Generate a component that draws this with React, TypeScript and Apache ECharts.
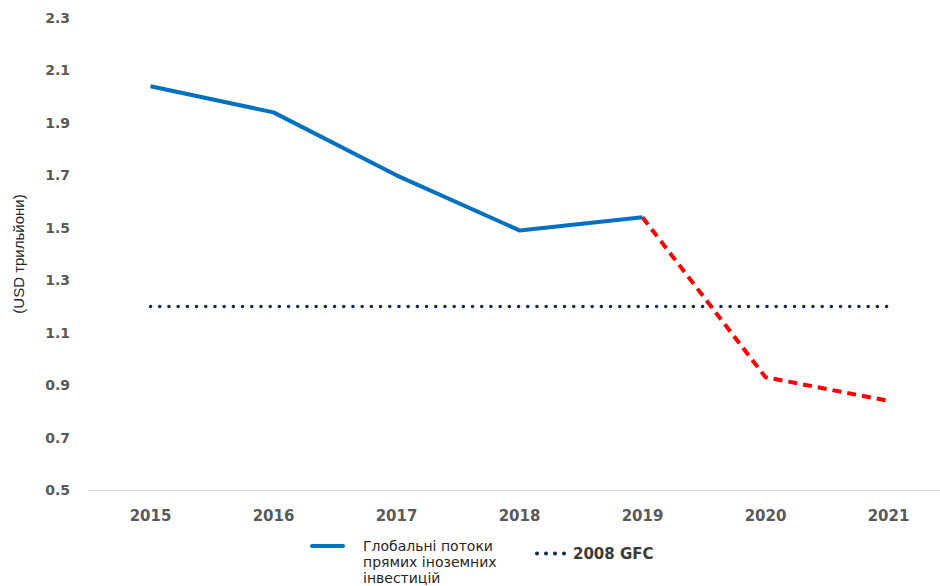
import React, { useEffect, useRef } from "react";
import * as echarts from "echarts";

const years = ["2015", "2016", "2017", "2018", "2019", "2020", "2021"];
const fdiActual = [2.04, 1.94, 1.7, 1.49, 1.54, null, null];
const fdiForecast = [null, null, null, null, 1.54, 0.93, 0.84];
const gfc2008 = [1.2, 1.2, 1.2, 1.2, 1.2, 1.2, 1.2];
const fdiName = "Глобальні потоки прямих іноземних інвестицій";
const fdiLegendText = "\n\nГлобальні потоки\nпрямих іноземних\nінвестицій";
const gfcName = "2008 GFC";
const yAxisTitle = "(USD трильйони)";

const lineIcon = "path://M2,0 H33 A2,2 0 0,1 33,4 H2 A2,2 0 0,1 2,0 Z";
const dotsIcon =
  "path://M0,2 A2,2 0 1,0 4,2 A2,2 0 1,0 0,2 Z M9,2 A2,2 0 1,0 13,2 A2,2 0 1,0 9,2 Z M18,2 A2,2 0 1,0 22,2 A2,2 0 1,0 18,2 Z M27,2 A2,2 0 1,0 31,2 A2,2 0 1,0 27,2 Z";

export default function App() {
  const ref = useRef<HTMLDivElement>(null);
  useEffect(() => {
    if (!ref.current) return;
    const chart = echarts.init(ref.current, null, { renderer: "svg" });
    chart.setOption({
      animation: false,
      backgroundColor: "#ffffff",
      grid: { left: 89, right: 0, top: 18, bottom: 96, containLabel: false },
      legend: [
        {
          data: [{ name: fdiName, icon: lineIcon }],
          left: 310,
          top: 506,
          itemWidth: 35,
          itemHeight: 4,
          padding: 0,
          formatter: () => fdiLegendText,
          textStyle: {
            fontFamily: "DejaVu Sans",
            fontSize: 14,
            lineHeight: 16,
            color: "#262626",
            padding: [0, 0, 0, 13],
          },
        },
        {
          data: [{ name: gfcName, icon: dotsIcon }],
          left: 535,
          top: 546,
          itemWidth: 31,
          itemHeight: 4,
          padding: 0,
          textStyle: {
            fontFamily: "DejaVu Sans",
            fontSize: 15,
            fontWeight: "bold",
            color: "#3a3a3a",
            padding: [0, 0, 0, 2],
          },
        },
      ],
      xAxis: {
        type: "category",
        data: years,
        boundaryGap: true,
        axisLine: { show: true, lineStyle: { color: "#d9d9d9", width: 1 } },
        axisTick: { show: false },
        axisLabel: {
          margin: 18,
          fontFamily: "DejaVu Sans",
          fontSize: 15,
          fontWeight: "bold",
          color: "#595959",
        },
        splitLine: { show: false },
      },
      yAxis: {
        type: "value",
        min: 0.5,
        max: 2.3,
        interval: 0.1,
        name: yAxisTitle,
        nameLocation: "middle",
        nameRotate: 90,
        nameGap: 63,
        nameTextStyle: {
          fontFamily: "Liberation Sans",
          fontSize: 15,
          color: "#262626",
        },
        axisLine: { show: false },
        axisTick: { show: false },
        splitLine: { show: false },
        axisLabel: {
          margin: 19,
          fontFamily: "DejaVu Sans",
          fontSize: 14,
          fontWeight: "bold",
          color: "#595959",
          formatter: (v: number) =>
            Math.round(v * 10) % 2 === 1 ? v.toFixed(1) : "",
        },
      },
      series: [
        {
          name: fdiName,
          type: "line",
          data: fdiActual,
          symbol: "none",
          connectNulls: false,
          lineStyle: { color: "#0070C0", width: 4 },
          itemStyle: { color: "#0070C0" },
          z: 3,
        },
        {
          name: "forecast",
          type: "line",
          data: fdiForecast,
          symbol: "none",
          lineStyle: { color: "#FF0000", width: 4, type: [9, 6] },
          itemStyle: { color: "#FF0000" },
          z: 3,
        },
        {
          name: gfcName,
          type: "line",
          data: gfc2008,
          symbol: "none",
          lineStyle: {
            color: "#14285a",
            width: 3.5,
            type: [0.1, 9.1],
            cap: "round",
          },
          itemStyle: { color: "#14285a" },
          z: 2,
        },
      ],
    });
    return () => chart.dispose();
  }, []);
  return (
    <div
      ref={ref}
      style={{ position: "fixed", left: 0, top: 0, width: 950, height: 586 }}
    />
  );
}
